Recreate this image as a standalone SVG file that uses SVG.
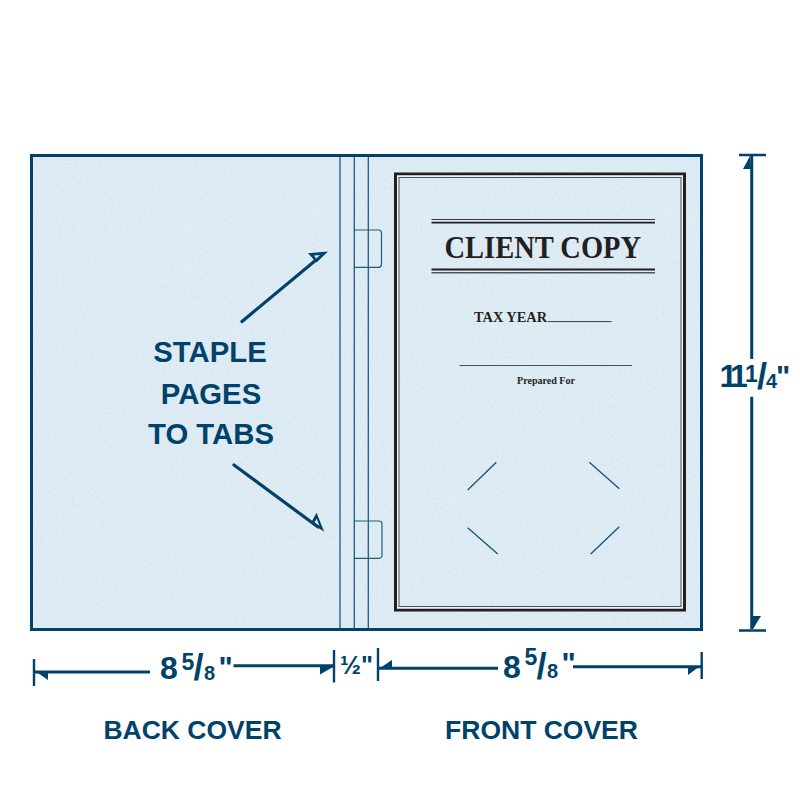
<svg xmlns="http://www.w3.org/2000/svg" width="800" height="800" viewBox="0 0 800 800">
<style>
.n{fill:#00426a}
.lab{font-family:"Liberation Sans",Arial,sans-serif;font-weight:700;fill:#00426a}
.ser{font-family:"Liberation Serif","Times New Roman",serif;font-weight:700;fill:#231f20}
.fold{stroke:#1f5b80;stroke-width:1.3;fill:none}
.tab{stroke:#1f5b80;stroke-width:1.2;fill:none}
.dim{stroke:#00426a;stroke-width:3;fill:none}
.tick{stroke:#00426a;stroke-width:2.4;fill:none}
.cut{stroke:#0d4f75;stroke-width:1.2;fill:none}
.arr{stroke:#00426a;stroke-width:3.2;stroke-linecap:round;fill:none}
.big{font-size:32px}
.num{font-size:23px}
.den{font-size:20px}
.sl{font-size:36px}
.qt{font-size:30px}
</style>
<defs>
<filter id="grain" x="0" y="0" width="100%" height="100%">
<feTurbulence type="fractalNoise" baseFrequency="1.1" numOctaves="2" seed="4"/>
<feColorMatrix type="matrix" values="0 0 0 0 0.66  0 0 0 0 0.78  0 0 0 0 0.86  2.4 0 0 0 -0.85"/>
</filter>
</defs>
<rect width="800" height="800" fill="#ffffff"/>
<g id="cover">
<rect x="31.5" y="155.5" width="670" height="474" fill="#e2eef6"/>
<rect x="31.5" y="155.5" width="670" height="474" filter="url(#grain)"/>
<rect x="31.5" y="155.5" width="670" height="474" fill="none" stroke="#00426a" stroke-width="3"/>
</g>
<g id="spine">
<path class="fold" d="M340 157V628M354.3 157V628M368.3 157V628"/>
</g>
<g id="tabs">
<path id="tab-top" class="tab" d="M354.3 230H378.5a3 3 0 0 1 3 3V264.3a3 3 0 0 1 -3 3H354.3"/>
<path id="tab-bottom" class="tab" d="M354.3 521H379a3 3 0 0 1 3 3V555.3a3 3 0 0 1 -3 3H354.3"/>
</g>
<g id="frame">
<rect x="395.5" y="174" width="289" height="436" fill="none" stroke="#231f20" stroke-width="3"/>
<rect x="397.6" y="176.1" width="284.8" height="431.8" fill="none" stroke="#f2f6f9" stroke-width="1.2"/>
<rect x="399" y="177.5" width="282" height="429" fill="none" stroke="#4a5058" stroke-width="1"/>
</g>
<g id="title">
<path d="M431.5 219.5H655" stroke="#333a42" stroke-width="1" fill="none"/>
<path d="M431.5 222.6H655" stroke="#231f20" stroke-width="1.8" fill="none"/>
<text class="ser" x="444.5" y="257.7" font-size="32" textLength="196.5" lengthAdjust="spacingAndGlyphs">CLIENT COPY</text>
<path d="M431.5 269.6H655" stroke="#231f20" stroke-width="2" fill="none"/>
<path d="M431.5 272.8H655" stroke="#4a5660" stroke-width="1.4" fill="none"/>
<text class="ser" x="474" y="322" font-size="14" textLength="73" lengthAdjust="spacingAndGlyphs">TAX YEAR</text>
<path d="M548 321.6H611.5" stroke="#333a42" stroke-width="1" fill="none"/>
<path d="M459.5 365.5H632" stroke="#4a5058" stroke-width="1" fill="none"/>
<text class="ser" x="517" y="383.5" font-size="10" textLength="58" lengthAdjust="spacingAndGlyphs">Prepared For</text>
</g>
<g id="cuts">
<path class="cut" d="M467.7 490L496.3 462.3M589.3 462.3L619.3 488.7M467.7 527.7L497.7 554M590.7 554L619.3 526.7"/>
</g>
<g id="staple-label">
<text class="lab" x="210" y="362" font-size="29.3" text-anchor="middle">STAPLE</text>
<text class="lab" x="211" y="403.5" font-size="29.3" text-anchor="middle">PAGES</text>
<text class="lab" x="211" y="443.5" font-size="29.3" text-anchor="middle">TO TABS</text>
</g>
<g id="connectors">
<path class="arr" d="M242 321.5L316 260"/>
<path class="n" fill-rule="evenodd" d="M308 253.3L328 251.5L316.5 262.5ZM314 255.6L320 255L316.2 258.8Z"/>
<path class="arr" d="M234 465L318 527"/>
<path class="n" fill-rule="evenodd" d="M324.2 531.8L316.5 512.8L311 523ZM319.5 526L316.6 518.5L314.4 522.6Z"/>
<path class="dim" d="M34 672H150M233.5 665.7H333M378 668.3H498M573 666.7H701M751.7 156V359M751.7 396.7V629"/>
<path class="tick" d="M34 659V686M334 650V682.5M378 648V681M701.7 652V679M739 155H766M739 630.5H766"/>
<path class="n" d="M35 671L48 671V680ZM333 667L320 667V674.5ZM380 668L392 660V668ZM700 666L688 666V675ZM750 156L751 169H743ZM753 629L752 616H761Z"/>
</g>
<g id="dim-back">
<text class="lab"><tspan class="big" x="160" y="678.7">8</tspan><tspan class="num" x="181.5" y="670">5</tspan><tspan class="sl" x="193.5" y="680">/</tspan><tspan class="den" x="204" y="679.5">8</tspan><tspan class="qt" x="218.5" y="676.5">"</tspan></text>
</g>
<g id="dim-half">
<text class="lab" font-size="25" y="674" x="340" textLength="33" lengthAdjust="spacingAndGlyphs">½"</text>
</g>
<g id="dim-front">
<text class="lab"><tspan class="big" x="503" y="677.5">8</tspan><tspan class="num" x="524.5" y="665.2">5</tspan><tspan class="sl" x="536.5" y="678.5">/</tspan><tspan class="den" x="547" y="677.5">8</tspan><tspan class="qt" x="561.5" y="673">"</tspan></text>
</g>
<g id="dim-height">
<text class="lab"><tspan class="big" x="719.5" y="387.3" letter-spacing="-5.5">11</tspan><tspan class="num" x="745" y="381.7">1</tspan><tspan class="sl" x="757" y="388.5">/</tspan><tspan class="den" x="766" y="387.5">4</tspan><tspan class="qt" x="776" y="385.5">"</tspan></text>
</g>
<g id="cover-labels">
<text class="lab" x="192.5" y="738.5" font-size="26.5" text-anchor="middle">BACK COVER</text>
<text class="lab" x="541.5" y="738.5" font-size="26.5" text-anchor="middle">FRONT COVER</text>
</g>
</svg>
